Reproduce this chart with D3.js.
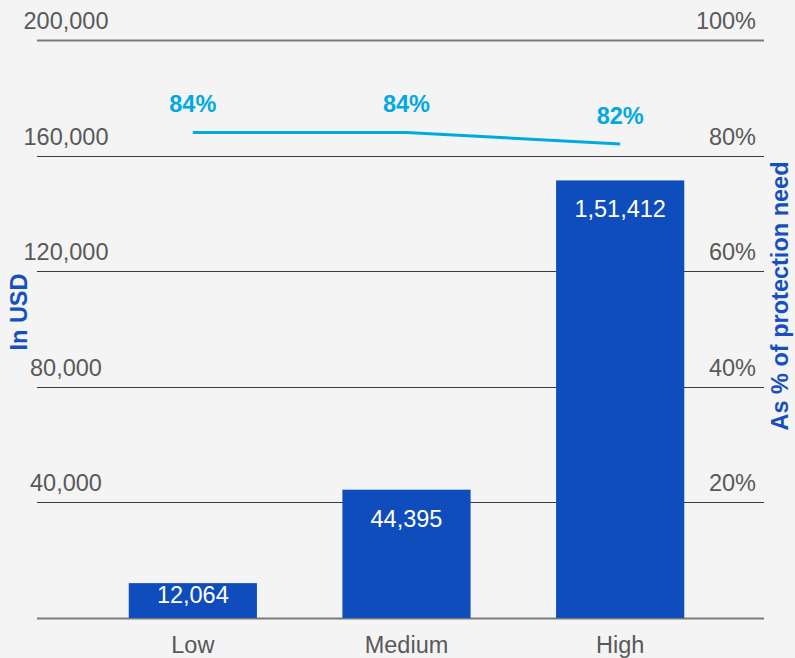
<!DOCTYPE html>
<html>
<head>
<meta charset="utf-8">
<script src="https://cdn.jsdelivr.net/npm/d3@7"></script>
<style>
  html, body { margin: 0; padding: 0; background: #f4f4f4; }
  svg { display: block; font-family: "Liberation Sans", Arial, sans-serif; }
</style>
</head>
<body>
<svg id="chart" width="795" height="658"></svg>
<script>
// Protection gap by risk level: amount in USD (bars) and share of protection need (line)
const categories = ["Low", "Medium", "High"];
const gapUSD = [12064, 44395, 151412];
const pctOfNeed = [84, 84, 82];
const leftTicks = [0, 40000, 80000, 120000, 160000, 200000];
const rightTicks = [20, 40, 60, 80, 100];

const svg = d3.select("#chart");
const W = 795, H = 658;
svg.append("rect").attr("width", W).attr("height", H).attr("fill", "#f4f4f4");

const gridX0 = 37, gridX1 = 764;
const yTop = 40, yBottom = 618;
const fs = 23.5;

const x = d3.scaleBand().domain(categories).range([86, 727])
  .paddingInner(0.4).paddingOuter(0.2);
const yL = d3.scaleLinear().domain([0, 200000]).range([yBottom, yTop]);
const yR = d3.scaleLinear().domain([0, 100]).range([yBottom, yTop]);

// Indian-style digit grouping for the bar labels (1,51,412)
const inLocale = d3.formatLocale({ decimal: ".", thousands: ",", grouping: [3, 2], currency: ["$", ""] });
const fmtIN = inLocale.format(",d");
const fmtL = d3.format(",d");

const grey = "#595959";
const barColor = "#0f4dbc";
const lineColor = "#00a9e0";
const titleColor = "#1450c0";

// Gridlines
svg.append("g").selectAll("line").data(leftTicks).join("line")
  .attr("x1", gridX0).attr("x2", gridX1)
  .attr("y1", d => Math.round(yL(d)) + 0.5).attr("y2", d => Math.round(yL(d)) + 0.5)
  .attr("stroke", d => (d === 0 || d === 200000) ? "#7a7a7a" : "#3a3a3a")
  .attr("stroke-width", d => (d === 0 || d === 200000) ? 2 : 1.2);

// Left axis labels
svg.append("g").selectAll("text").data(leftTicks.filter(d => d > 0)).join("text")
  .attr("x", 66).attr("y", d => yL(d) - 11)
  .attr("text-anchor", "middle")
  .attr("font-size", fs).attr("fill", grey)
  .text(d => fmtL(d));

// Right axis labels
svg.append("g").selectAll("text").data(rightTicks).join("text")
  .attr("x", 756).attr("y", d => yR(d) - 11)
  .attr("text-anchor", "end")
  .attr("font-size", fs).attr("fill", grey)
  .text(d => d + "%");

// Bars
svg.append("g").selectAll("rect").data(categories).join("rect")
  .attr("x", d => x(d))
  .attr("width", x.bandwidth())
  .attr("y", (d, i) => yL(gapUSD[i]))
  .attr("height", (d, i) => yBottom - yL(gapUSD[i]))
  .attr("fill", barColor);

// Bar value labels (inside the bar top; short bars get a tighter offset)
svg.append("g").selectAll("text").data(categories).join("text")
  .attr("x", d => x(d) + x.bandwidth() / 2)
  .attr("y", (d, i) => {
    const top = yL(gapUSD[i]);
    return (yBottom - top) > 60 ? top + 37 : top + 20;
  })
  .attr("text-anchor", "middle")
  .attr("font-size", fs).attr("fill", "#ffffff")
  .text((d, i) => fmtIN(gapUSD[i]));

// Category labels
svg.append("g").selectAll("text").data(categories).join("text")
  .attr("x", d => x(d) + x.bandwidth() / 2)
  .attr("y", 653)
  .attr("text-anchor", "middle")
  .attr("font-size", fs).attr("fill", grey)
  .text(d => d);

// Share-of-need line
const line = d3.line()
  .x((d, i) => x(categories[i]) + x.bandwidth() / 2)
  .y(d => yR(d));
svg.append("path").datum(pctOfNeed)
  .attr("d", line)
  .attr("fill", "none").attr("stroke", lineColor).attr("stroke-width", 3);

svg.append("g").selectAll("text").data(pctOfNeed).join("text")
  .attr("x", (d, i) => x(categories[i]) + x.bandwidth() / 2)
  .attr("y", d => yR(d) - 20)
  .attr("text-anchor", "middle")
  .attr("font-size", fs).attr("font-weight", "bold").attr("fill", lineColor)
  .text(d => d + "%");

// Axis titles
svg.append("text")
  .attr("transform", "translate(27,312) rotate(-90)")
  .attr("text-anchor", "middle")
  .attr("font-size", fs).attr("font-weight", "bold").attr("fill", titleColor)
  .text("In USD");

svg.append("text")
  .attr("transform", "translate(788,296) rotate(-90)")
  .attr("text-anchor", "middle")
  .attr("font-size", fs).attr("font-weight", "bold").attr("fill", titleColor)
  .text("As % of protection need");
</script>
</body>
</html>
